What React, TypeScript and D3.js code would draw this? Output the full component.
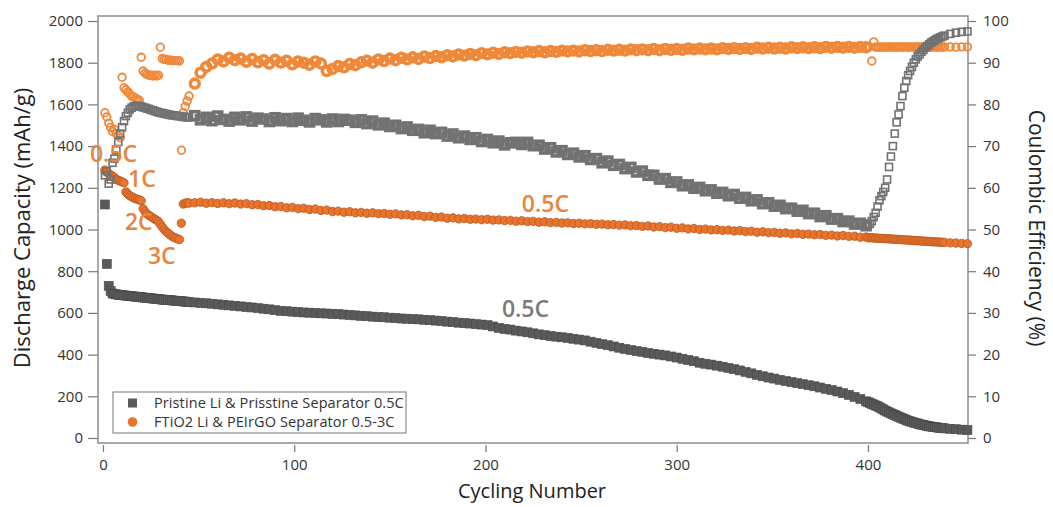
import React, { useEffect, useRef } from "react";
import * as d3 from "d3";

// cycle numbers of the plotted points: every cycle at the start and the end,
// every third cycle through the long middle stretch
const cycles = [
  ...d3.range(1, 46),
  ...d3.range(48, 400, 3),
  ...d3.range(400, 441),
  443, 446, 449, 452,
];

// Pristine Li & Prisstine Separator - discharge capacity (mAh/g)
const pristineCapacity = [
  // 1-45
  1120, 835, 730, 705, 693, 691, 689, 687, 686, 685,
  684, 683, 682, 681, 680, 679, 678, 677, 676, 675,
  674, 673, 672, 671, 670, 669, 668, 667, 666, 665,
  664, 663, 663, 662, 661, 660, 659, 658, 657, 656,
  656, 655, 654, 653, 652,
  // 48-399
  650, 648, 646, 644, 641, 639, 636, 634, 631, 628,
  626, 623, 620, 617, 613, 610, 608, 606, 604, 602,
  601, 599, 598, 597, 595, 594, 592, 590, 588, 586,
  584, 582, 580, 579, 577, 575, 573, 572, 570, 569,
  567, 565, 563, 561, 558, 556, 553, 551, 549, 546,
  544, 541, 535, 528, 523, 520, 515, 511, 507, 502,
  497, 493, 489, 486, 483, 480, 476, 472, 468, 462,
  456, 450, 445, 439, 433, 427, 422, 417, 413, 408,
  404, 400, 396, 391, 386, 380, 374, 368, 361, 356,
  352, 347, 342, 336, 330, 324, 317, 310, 303, 296,
  290, 285, 279, 273, 268, 263, 258, 253, 248, 242,
  236, 230, 223, 215, 207, 197, 187, 176,
  // 400-452
  172, 168, 164, 160, 156, 152, 147, 142, 137, 132,
  127, 123, 118, 114, 110, 106, 102, 98, 94, 90,
  87, 83, 80, 77, 74, 71, 69, 66, 64, 62,
  60, 58, 56, 55, 53, 52, 51, 49, 48, 47,
  46, 44, 42, 40, 38,
];

// Pristine - coulombic efficiency (%)
const pristineCE = [
  // 1-45
  63, 64, 61, 62, 66, 67, 69, 71, 73, 74.5,
  76, 77.2, 78, 78.8, 79.2, 79.5, 79.6, 79.7, 79.6, 79.5,
  79.3, 79.2, 79.0, 78.9, 78.7, 78.6, 78.4, 78.3, 78.1, 78.0,
  77.9, 77.8, 77.7, 77.6, 77.5, 77.4, 77.4, 77.3, 77.2, 77.2,
  77.1, 77.0, 77.0, 76.9, 76.9,
  // 48-399
  77.3, 76.3, 76.9, 76.1, 77.2, 76.4, 76.0, 76.9, 76.3, 77.0,
  76.0, 76.7, 76.5, 75.9, 76.8, 76.1, 76.6, 75.9, 76.7, 76.2,
  75.8, 76.6, 76.3, 75.8, 76.5, 75.9, 76.4, 76.2, 75.7, 76.3,
  75.4, 76.0, 75.1, 75.5, 74.7, 75.0, 74.2, 74.6, 73.8, 74.0,
  73.2, 73.8, 73.0, 73.3, 72.4, 72.9, 72.0, 72.4, 71.6, 72.0,
  71.1, 71.6, 70.8, 71.2, 70.3, 70.8, 70.9, 70.4, 70.9, 70.1,
  70.2, 69.3, 69.6, 68.6, 68.9, 68.0, 68.3, 67.4, 67.7, 66.8,
  67.0, 66.0, 66.4, 65.4, 65.6, 64.6, 64.9, 63.8, 64.0, 63.0,
  63.0, 62.1, 62.2, 61.3, 61.4, 60.5, 60.7, 59.9, 60.1, 59.3,
  59.5, 58.7, 58.9, 58.1, 58.4, 57.5, 57.7, 56.9, 57.1, 56.2,
  56.4, 55.6, 55.8, 55.0, 55.1, 54.4, 54.6, 53.8, 53.9, 53.1,
  53.3, 52.5, 52.6, 51.9, 52.0, 51.3, 51.5, 50.9,
  // 400-452
  51.0, 51.4, 52.0, 53.0, 54.0, 55.5, 57.0, 58.0, 59.0, 60.0,
  62.0, 65.0, 67.5, 70.0, 73.0, 75.7, 77.6, 79.6, 82.0, 84.0,
  85.6, 87.0, 88.0, 89.0, 90.0, 90.8, 91.5, 92.0, 92.6, 93.1,
  93.6, 94.0, 94.4, 94.8, 95.1, 95.4, 95.7, 95.9, 96.1, 96.3,
  96.5, 96.9, 97.2, 97.4, 97.5,
];

// FTiO2 Li & PEIrGO Separator - discharge capacity (mAh/g)
const ftioCapacity = [
  // 1-45 (rate test 0.5C / 1C / 2C / 3C, then back to 0.5C)
  1285, 1275, 1268, 1262, 1255, 1250, 1240, 1236, 1232, 1228,
  1224, 1180, 1170, 1162, 1157, 1152, 1148, 1145, 1142, 1138,
  1100, 1085, 1075, 1068, 1062, 1056, 1050, 1045, 1038, 1025,
  1012, 1000, 990, 982, 975, 968, 963, 959, 955, 952,
  1030, 1122, 1126, 1128, 1127,
  // 48-399
  1128, 1131, 1126, 1129, 1125, 1128, 1124, 1127, 1122, 1124,
  1119, 1120, 1114, 1115, 1109, 1110, 1104, 1106, 1100, 1102,
  1096, 1098, 1091, 1093, 1086, 1088, 1083, 1085, 1080, 1082,
  1078, 1080, 1076, 1077, 1073, 1075, 1070, 1071, 1066, 1068,
  1062, 1064, 1058, 1060, 1054, 1056, 1051, 1053, 1049, 1050,
  1047, 1049, 1045, 1046, 1043, 1044, 1040, 1042, 1038, 1039,
  1035, 1037, 1033, 1034, 1031, 1032, 1029, 1030, 1027, 1028,
  1025, 1026, 1023, 1024, 1021, 1022, 1018, 1019, 1015, 1017,
  1012, 1014, 1009, 1011, 1006, 1008, 1003, 1005, 1000, 1002,
  998, 999, 996, 997, 993, 995, 990, 992, 987, 989,
  985, 986, 982, 984, 979, 981, 977, 978, 975, 976,
  972, 973, 969, 971, 967, 968, 963, 964,
  // 400-452
  961, 960, 961, 959, 959, 958, 958, 957, 957, 956,
  956, 955, 955, 954, 953, 953, 952, 952, 951, 950,
  950, 949, 949, 948, 947, 947, 946, 946, 945, 944,
  944, 943, 943, 942, 941, 941, 940, 940, 939, 939,
  938, 936, 935, 933, 932,
];

// FTiO2 - coulombic efficiency (%)
const ftioCE = [
  // 1-45
  78, 77, 75.5, 74.5, 73.5, 74, 73, 72.5, 72, 86.5,
  84, 83.5, 83, 82.5, 82, 81.8, 81.5, 81.2, 81, 91.3,
  88, 87.5, 87.2, 87, 87, 86.8, 87, 86.8, 87, 93.7,
  91, 90.8, 90.8, 90.6, 90.6, 90.6, 90.5, 90.5, 90.5, 90.4,
  69, 78, 79.5, 80.8, 82,
  // 48-399
  85.0, 87.6, 89.0, 89.8, 90.8, 90.3, 91.2, 90.6, 91.0, 90.2,
  90.9, 90.1, 90.6, 89.8, 90.7, 90.0, 90.5, 89.6, 90.3, 90.0,
  89.5, 90.3, 89.8, 88.0, 88.5, 89.2, 88.9, 89.7, 89.4, 90.1,
  90.5, 90.0, 90.8, 90.4, 91.0, 90.6, 91.2, 90.8, 91.3, 90.9,
  91.5, 91.1, 91.6, 91.3, 91.8, 91.5, 92.0, 91.7, 92.1, 91.8,
  92.3, 92.0, 92.4, 92.1, 92.5, 92.3, 92.6, 92.4, 92.7, 92.5,
  92.8, 92.5, 92.8, 92.6, 92.9, 92.7, 92.9, 92.7, 93.0, 92.8,
  93.0, 92.8, 93.1, 92.9, 93.1, 92.9, 93.2, 93.0, 93.2, 93.0,
  93.3, 93.0, 93.3, 93.1, 93.3, 93.1, 93.4, 93.2, 93.4, 93.2,
  93.4, 93.2, 93.5, 93.3, 93.5, 93.3, 93.5, 93.3, 93.6, 93.4,
  93.6, 93.4, 93.6, 93.4, 93.7, 93.5, 93.7, 93.5, 93.7, 93.5,
  93.8, 93.6, 93.8, 93.6, 93.8, 93.6, 93.8, 93.7,
  // 400-452
  93.7, 93.8, 90.4, 95.0, 93.7, 93.8, 93.7, 93.8, 93.7, 93.8,
  93.7, 93.8, 93.8, 93.7, 93.8, 93.7, 93.8, 93.8, 93.7, 93.8,
  93.8, 93.7, 93.8, 93.8, 93.7, 93.8, 93.8, 93.7, 93.8, 93.8,
  93.7, 93.8, 93.8, 93.7, 93.8, 93.8, 93.7, 93.8, 93.8, 93.7,
  93.8, 93.8, 93.7, 93.8, 93.8,
];

const capTicks = [0, 200, 400, 600, 800, 1000, 1200, 1400, 1600, 1800, 2000];
const ceTicks = [0, 10, 20, 30, 40, 50, 60, 70, 80, 90, 100];
const cycleTicks = [0, 100, 200, 300, 400];

const legendLabels = [
  "Pristine Li & Prisstine Separator 0.5C",
  "FTiO2 Li & PEIrGO Separator 0.5-3C",
];

const FONT = "'Open Sans', 'DejaVu Sans', sans-serif";
const GRAY = "#5a5a5a";
const GRAY_OPEN = "#727272";
const ORANGE = "#e8742d";
const ORANGE_OPEN = "#f0883a";

// open markers sit every third cycle in the middle stretch, so they are drawn
// heavier there to give the same solid band as the per-cycle original
const dense = (c: number) => c > 45 && c < 400;

const App = () => {
  const svgRef = useRef<SVGSVGElement>(null);

  useEffect(() => {
    const width = 1053,
      height = 507;
    const left = 98,
      right = 968,
      top = 16,
      bottom = 443;

    const svg = d3.select(svgRef.current);
    svg.selectAll("*").remove();
    svg.attr("width", width).attr("height", height);

    svg.append("rect").attr("width", width).attr("height", height).attr("fill", "#fff");

    // scales
    const x = d3.scaleLinear().domain([-2.6, 452.3]).range([left, right]);
    const yCap = d3.scaleLinear().domain([-24, 2024]).range([bottom, top]);
    const yCE = d3.scaleLinear().domain([-1.2, 101.2]).range([bottom, top]);

    const pts = (vals: number[]) => cycles.map((c, i) => ({ c, v: vals[i] }));

    // axes
    const styleAxis = (g: any) => {
      g.select(".domain").remove();
      g.selectAll(".tick line").attr("stroke", "#777").attr("stroke-width", 1.2);
      g.selectAll(".tick text")
        .attr("fill", "#333")
        .style("font-family", FONT)
        .style("font-size", "15px");
    };

    svg
      .append("g")
      .attr("transform", `translate(${left},0)`)
      .call(
        d3.axisLeft(yCap).tickValues(capTicks).tickFormat(d3.format("d")).tickSize(10).tickPadding(5)
      )
      .call(styleAxis);

    svg
      .append("g")
      .attr("transform", `translate(${right},0)`)
      .call(
        d3.axisRight(yCE).tickValues(ceTicks).tickFormat(d3.format("d")).tickSize(8).tickPadding(7)
      )
      .call(styleAxis);

    svg
      .append("g")
      .attr("transform", `translate(0,${bottom + 2})`)
      .call(
        d3.axisBottom(x).tickValues(cycleTicks).tickFormat(d3.format("d")).tickSize(7).tickPadding(7)
      )
      .call(styleAxis);

    // frame
    svg
      .append("rect")
      .attr("x", left)
      .attr("y", top)
      .attr("width", right - left)
      .attr("height", bottom - top)
      .attr("fill", "none")
      .attr("stroke", "#858585")
      .attr("stroke-width", 1.4);

    // FTiO2 capacity: filled circles
    svg
      .append("g")
      .selectAll("circle")
      .data(pts(ftioCapacity))
      .join("circle")
      .attr("cx", (d) => x(d.c))
      .attr("cy", (d) => yCap(d.v))
      .attr("r", 4.2)
      .attr("fill", ORANGE)
      .attr("stroke", "#b9581f")
      .attr("stroke-width", 0.8);

    // FTiO2 CE: open circles
    svg
      .append("g")
      .selectAll("circle")
      .data(pts(ftioCE))
      .join("circle")
      .attr("cx", (d) => x(d.c))
      .attr("cy", (d) => yCE(d.v))
      .attr("r", (d) => (dense(d.c) ? 4.4 : 3.8))
      .attr("fill", "none")
      .attr("stroke", ORANGE_OPEN)
      .attr("stroke-width", (d) => (dense(d.c) ? 3.6 : 1.8));

    // pristine capacity: filled squares
    svg
      .append("g")
      .selectAll("rect")
      .data(pts(pristineCapacity))
      .join("rect")
      .attr("x", (d) => x(d.c) - 4.5)
      .attr("y", (d) => yCap(d.v) - 4.5)
      .attr("width", 9)
      .attr("height", 9)
      .attr("fill", GRAY)
      .attr("stroke", "#4a4a4a")
      .attr("stroke-width", 0.6);

    // pristine CE: open squares
    svg
      .append("g")
      .selectAll("rect")
      .data(pts(pristineCE))
      .join("rect")
      .attr("x", (d) => x(d.c) - (dense(d.c) ? 4 : 3.5))
      .attr("y", (d) => yCE(d.v) - (dense(d.c) ? 4 : 3.5))
      .attr("width", (d) => (dense(d.c) ? 8 : 7))
      .attr("height", (d) => (dense(d.c) ? 8 : 7))
      .attr("fill", "none")
      .attr("stroke", GRAY_OPEN)
      .attr("stroke-width", (d) => (dense(d.c) ? 3.6 : 1.6));

    // rate annotations
    const notes = [
      { t: "0.5C", c: -6.8, v: 1324, col: "#e9843a" },
      { t: "1C", c: 13.1, v: 1204, col: "#e9843a" },
      { t: "2C", c: 11.5, v: 998, col: "#e9843a" },
      { t: "3C", c: 23.5, v: 835, col: "#e9843a" },
      { t: "0.5C", c: 219, v: 1084, col: "#e9843a" },
      { t: "0.5C", c: 208.6, v: 580, col: "#7a7a7a" },
    ];
    svg
      .append("g")
      .selectAll("text")
      .data(notes)
      .join("text")
      .attr("x", (d) => x(d.c))
      .attr("y", (d) => yCap(d.v))
      .attr("fill", (d) => d.col)
      .style("font-family", FONT)
      .style("font-size", "23px")
      .style("font-weight", 600)
      .text((d) => d.t);

    // axis titles
    svg
      .append("text")
      .attr("x", 532)
      .attr("y", 498)
      .attr("text-anchor", "middle")
      .attr("fill", "#222")
      .style("font-family", FONT)
      .style("font-size", "20px")
      .text("Cycling Number");

    svg
      .append("text")
      .attr("transform", "translate(22,228) rotate(-90)")
      .attr("dy", "0.35em")
      .attr("text-anchor", "middle")
      .attr("fill", "#222")
      .style("font-family", FONT)
      .style("font-size", "22px")
      .text("Discharge Capacity (mAh/g)");

    svg
      .append("text")
      .attr("transform", "translate(1036,228) rotate(90)")
      .attr("dy", "0.35em")
      .attr("text-anchor", "middle")
      .attr("fill", "#222")
      .style("font-family", FONT)
      .style("font-size", "21px")
      .text("Coulombic Efficiency (%)");

    // legend
    const legend = svg.append("g");
    legend
      .append("rect")
      .attr("x", 113)
      .attr("y", 392)
      .attr("width", 293)
      .attr("height", 41)
      .attr("fill", "#fff")
      .attr("stroke", "#777")
      .attr("stroke-width", 1);
    legend
      .append("rect")
      .attr("x", 128)
      .attr("y", 398.5)
      .attr("width", 9)
      .attr("height", 9)
      .attr("fill", GRAY);
    legend
      .append("circle")
      .attr("cx", 132.5)
      .attr("cy", 422)
      .attr("r", 4.8)
      .attr("fill", ORANGE);
    legend
      .selectAll("text")
      .data(legendLabels)
      .join("text")
      .attr("x", 154)
      .attr("y", (d, i) => 408 + i * 19)
      .attr("fill", "#333")
      .style("font-family", FONT)
      .style("font-size", "14.5px")
      .style("letter-spacing", "0.1px")
      .text((d) => d);
  }, []);

  return (
    <svg
      ref={svgRef}
      style={{ position: "absolute", left: 0, top: 0, display: "block" }}
    ></svg>
  );
};

export default App;
